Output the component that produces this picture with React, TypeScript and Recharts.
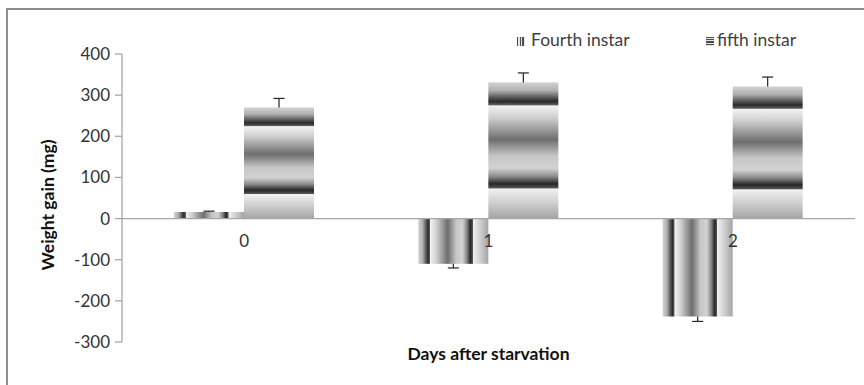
import React from "react";
import { BarChart, Bar, XAxis, YAxis, ReferenceLine, ReferenceDot } from "recharts";

const categories = ["0", "1", "2"];
const fourthInstar = [16, -110, -238];
const fourthErr = [2, 10, 12];
const fifthInstar = [270, 331, 321];
const fifthErr = [22, 23, 23];
const seriesNames = ["Fourth instar", "fifth instar"];
const yTicks = [-300, -200, -100, 0, 100, 200, 300, 400];

const data = categories.map((c, i) => ({
  day: c,
  fourth: fourthInstar[i],
  fourthErr: fourthErr[i],
  fifth: fifthInstar[i],
  fifthErr: fifthErr[i],
}));

const FONT = "Lato, 'Open Sans', sans-serif";
const AXIS_GREY = "#a6a6a6";
const TEXT = "#333333";

// banded grey gradient, same stops for both series, only the direction changes
const STOPS: [number, string][] = [
  [0, "#d2d2d2"],
  [0.06, "#b0b0b0"],
  [0.11, "#5a5a5a"],
  [0.14, "#2a2a2a"],
  [0.165, "#5c5c5c"],
  [0.172, "#f2f2f2"],
  [0.26, "#cfcfcf"],
  [0.42, "#6e6e6e"],
  [0.54, "#c6c6c6"],
  [0.63, "#d2d2d2"],
  [0.69, "#8c8c8c"],
  [0.745, "#262626"],
  [0.775, "#555555"],
  [0.782, "#f0f0f0"],
  [0.88, "#d0d0d0"],
  [1, "#a4a4a4"],
];

function Gradient({ id, vertical }: { id: string; vertical: boolean }) {
  return (
    <linearGradient id={id} x1="0" y1="0" x2={vertical ? "0" : "1"} y2={vertical ? "1" : "0"}>
      {STOPS.map(([o, c], i) => (
        <stop key={i} offset={o} stopColor={c} />
      ))}
    </linearGradient>
  );
}

// bar with its one-sided error whisker, sized from the bar's own scale
const makeShape = (gradId: string, valueKey: string, errKey: string) => (props: any) => {
  const { x, y, width, height, payload } = props;
  const top = Math.min(y, y + height);
  const h = Math.abs(height);
  const v = payload[valueKey];
  const pxPer = v !== 0 ? h / Math.abs(v) : 0;
  const e = payload[errKey] * pxPer;
  const cx = x + width / 2;
  const yStart = v >= 0 ? top : top + h;
  const yEnd = v >= 0 ? top - e : top + h + e;
  return (
    <g>
      <rect x={x} y={top} width={width} height={h} fill={`url(#${gradId})`} />
      <line x1={cx} y1={yStart} x2={cx} y2={yEnd} stroke="#222" strokeWidth={1.2} />
      <line x1={cx - 5.5} y1={yEnd} x2={cx + 5.5} y2={yEnd} stroke="#222" strokeWidth={1.2} />
    </g>
  );
};

const YLabel = (p: any) => {
  const { x, y, height } = p.viewBox;
  const cx = x + 39;
  const cy = y + height / 2 + 7;
  return (
    <text
      x={cx}
      y={cy}
      transform={`rotate(-90, ${cx}, ${cy})`}
      textAnchor="middle"
      dominantBaseline="central"
      fontFamily={FONT}
      fontWeight={700}
      fontSize={17.5}
      fill="#111"
    >
      Weight gain (mg)
    </text>
  );
};

const legendStripes = (id: string, vertical: boolean) => (
  <linearGradient id={id} x1="0" y1="0" x2={vertical ? "0" : "1"} y2={vertical ? "1" : "0"}>
    {[0, 1, 2, 3, 4].map((k) => (
      <React.Fragment key={k}>
        <stop offset={k / 5} stopColor="#4a4a4a" />
        <stop offset={k / 5 + 0.1} stopColor="#4a4a4a" />
        <stop offset={k / 5 + 0.1} stopColor="#e6e6e6" />
        <stop offset={(k + 1) / 5} stopColor="#e6e6e6" />
      </React.Fragment>
    ))}
  </linearGradient>
);

export default function App() {
  return (
    <div
      style={{
        position: "absolute",
        left: 6,
        top: 8,
        width: 856,
        height: 375,
        borderTop: "2px solid #8e8e8e",
        borderLeft: "2px solid #8e8e8e",
        fontFamily: FONT,
        background: "#fff",
      }}
    >
      <div style={{ position: "absolute", left: 0, top: 0, width: 856, height: 40, fontSize: 17.5, color: "#404040" }}>
        <svg width={0} height={0} style={{ position: "absolute" }}>
          <defs>
            {legendStripes("legFourth", false)}
            {legendStripes("legFifth", true)}
          </defs>
        </svg>
        {seriesNames.map((name, i) => (
          <React.Fragment key={name}>
            <svg
              width={8}
              height={9}
              style={{ position: "absolute", left: i === 0 ? 509 : 698, top: 27 }}
            >
              <rect width={8} height={9} fill={`url(#${i === 0 ? "legFourth" : "legFifth"})`} />
            </svg>
            <span style={{ position: "absolute", left: i === 0 ? 523 : 709, top: 21, lineHeight: 1, whiteSpace: "nowrap" }}>
              {name}
            </span>
          </React.Fragment>
        ))}
      </div>
      <BarChart
        width={856}
        height={375}
        data={data}
        margin={{ top: 44, right: 9, left: 0, bottom: 0 }}
        barGap={0}
        barSize={70}
      >
        <defs>
          <Gradient id="gradFourth" vertical={false} />
          <Gradient id="gradFifth" vertical={true} />
        </defs>
        <XAxis
          dataKey="day"
          height={43}
          axisLine={false}
          tickLine={false}
          tick={false}
          label={{
            value: "Days after starvation",
            position: "insideTop",
            offset: 6,
            fontFamily: FONT,
            fontWeight: 700,
            fontSize: 17.5,
            fill: "#111",
          }}
        />
        <YAxis
          width={114}
          domain={[-300, 400]}
          ticks={yTicks}
          interval={0}
          axisLine={{ stroke: AXIS_GREY, strokeWidth: 1.3 }}
          tickLine={{ stroke: AXIS_GREY, strokeWidth: 1.3 }}
          tickSize={7}
          tickMargin={5}
          tick={{ fill: TEXT, fontSize: 17, fontFamily: FONT }}
          label={<YLabel />}
        />
        <Bar
          dataKey="fourth"
          name={seriesNames[0]}
          isAnimationActive={false}
          shape={makeShape("gradFourth", "fourth", "fourthErr")}
        />
        <Bar
          dataKey="fifth"
          name={seriesNames[1]}
          isAnimationActive={false}
          shape={makeShape("gradFifth", "fifth", "fifthErr")}
        />
        <ReferenceLine y={0} stroke={AXIS_GREY} strokeWidth={1.3} />
        {categories.map((c) => (
          <ReferenceDot
            key={c}
            x={c}
            y={0}
            r={0}
            fill="none"
            stroke="none"
            label={{ value: c, position: "bottom", offset: 16, fill: TEXT, fontSize: 17, fontFamily: FONT }}
          />
        ))}
      </BarChart>
    </div>
  );
}
